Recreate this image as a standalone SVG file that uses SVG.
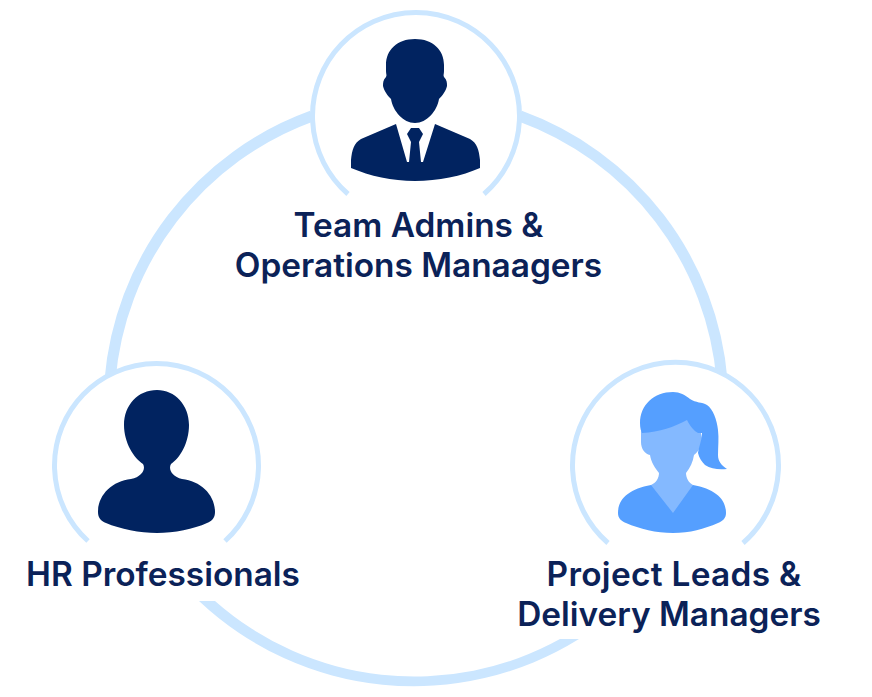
<svg xmlns="http://www.w3.org/2000/svg" width="872" height="697" viewBox="0 0 872 697">
<style>
.ring{fill:none;stroke:#cbe6ff;stroke-width:5}
.mask{fill:#fff}
.band{fill:none;stroke:#cbe6ff;stroke-width:11}
.navy{fill:#012360}
.lbl{font-family:"Inter","Liberation Sans",sans-serif;font-weight:600;font-size:33.400px;fill:#0b2258;text-anchor:middle}
</style>
<rect width="872" height="697" fill="#fff"/>
<g id="connectors">
<path class="band" d="M110,380 A308,308 0 0 1 312,116"/>
<path class="band" d="M520,116 A308,308 0 0 1 722,380"/>
<path d="M199,601 A313,313 0 0 0 579,639 L560,639 A301,301 0 0 1 215,601 Z" fill="#cbe6ff"/>
</g>
<g id="node-team-admins">
<circle class="mask" cx="415" cy="116" r="103"/>
<path class="ring" d="M348,194 A103.500,103.500 0 1 1 484,194"/>
<path class="navy" d="M415,39 C397,39 386,50 386,65 L386,71 C386,74 387,75 386,77 C383,80 383,83 383,86 C384,91 388,96 391,99 C393,111 403,123 415,123 C427,123 437,111 439,99 C442,96 446,91 447,86 C447,83 447,80 444,77 C443,75 444,74 444,71 L444,65 C444,50 433,39 415,39Z"/>
<path class="navy" d="M396,124 L361,139 C354,143 352,150 351,160 L351,168 C370,176 392,181 415,181 C438,181 462,176 480,168 L480,160 C479,150 477,143 470,139 L435,124 L423,162 L421,162 L419,142 L423,134 L419,128 L411,128 L407,134 L411,142 L409,162 L407,162 Z"/>
<text class="lbl" x="418.500" y="237">Team Admins &amp;</text>
<text class="lbl" x="418.500" y="277">Operations Manaagers</text>
</g>
<g id="node-hr">
<circle class="mask" cx="156" cy="465" r="102"/>
<path class="ring" d="M88,541 A102,102 0 1 1 225,541"/>
<path class="navy" d="M157,390 C138,390 124,405 124,425 C124,443 134,458 143,464 C146,469 142,477 131,479 C112,481 98,495 98,512 C98,518 101,521 106,523 C120,529 140,533 157,533 C174,533 194,529 207,523 C212,521 215,518 215,512 C215,495 201,481 182,479 C172,477 168,469 171,464 C180,458 189,443 189,425 C189,405 175,390 157,390Z"/>
<text class="lbl" x="163" y="586">HR Professionals</text>
</g>
<g id="node-project-leads">
<circle class="mask" cx="675" cy="465" r="102"/>
<path class="ring" d="M608,543 A103,103 0 1 1 743,543"/>
<path d="M618,513 C618,498 630,489 651,485 L693,485 C714,489 726,498 726,513 C726,518 723,521 718,523 C704,529 690,533 673,533 C656,533 640,529 626,523 C621,521 618,518 618,513Z" fill="#559fff"/>
<path d="M641,430 L641,442 C641,449 645,454 650,455 C651,462 655,468 659,473 C659,478 656,483 651,485 L673,513 L693,485 C689,483 686,478 686,473 C690,468 693,462 694,455 C698,452 702,446 702,438 L698,420 L660,415 Z" fill="#84b9ff"/>
<path d="M673,392 C654,392 640,405 640,423 C640,428 641,431 642,433 C660,432 674,427 687,420 C690,426 694,431 698,433 L702,433 C702,440 699,446 698,453 C699,458 702,462 705,465 C711,469 719,470 727,469 C721,465 718,461 718,455 C718,447 719,438 718,430 C717,420 713,409 707,405 C702,402 696,403 690,399 C685,395 680,392 673,392Z" fill="#559fff"/>
<text class="lbl" x="674" y="586" letter-spacing="0.300">Project Leads &amp;</text>
<text class="lbl" x="669" y="626">Delivery Managers</text>
</g>
</svg>
